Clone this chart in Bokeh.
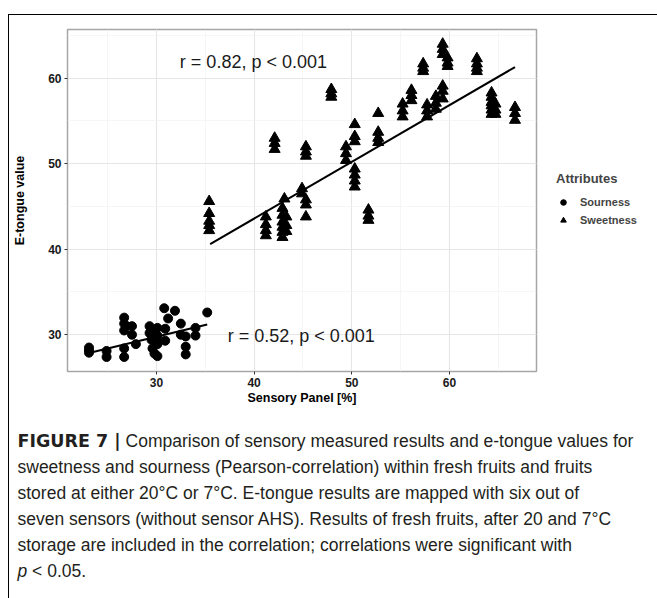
from bokeh.plotting import figure
from bokeh.models import Range1d, SingleIntervalTicker, Label, Legend, LegendItem, Div
from bokeh.layouts import column
from bokeh.embed import file_html
from bokeh.resources import INLINE

# ---------------- data ----------------
sour_x = [23.1, 23.1, 23.1, 24.9, 24.9, 26.7, 26.7, 26.7, 26.7, 26.7, 27.5, 27.5, 27.9,
          29.3, 29.3, 29.5, 29.6, 29.8, 29.8, 30.1, 30.1, 30.1, 30.1, 30.0, 30.8, 31.2,
          31.9, 30.9, 30.9, 32.5, 32.5, 33.0, 33.0, 33.0, 34.0, 34.0, 35.2]
sour_y = [28.5, 28.2, 27.9, 28.1, 27.4, 32.0, 31.3, 30.5, 28.4, 27.4, 31.0, 30.0, 28.9,
          31.0, 30.2, 29.4, 28.4, 27.8, 30.6, 30.8, 29.9, 28.9, 27.5, 29.4, 33.1, 31.9,
          32.8, 30.7, 29.3, 31.3, 30.0, 29.8, 28.6, 27.7, 30.8, 29.9, 32.6]
sweet_x = [35.4, 35.4, 35.4, 35.4, 35.4,
           41.2, 41.2, 41.2, 41.2,
           42.1, 42.1, 42.1,
           42.9, 42.9, 42.9, 42.9, 42.9, 42.9,
           43.3, 43.3, 43.3, 43.1,
           44.9, 44.9, 45.3, 45.3, 45.3,
           45.3, 45.3, 45.3,
           47.9, 47.9, 47.9,
           49.4, 49.4, 49.4,
           50.3, 50.3, 50.3, 50.3, 50.3, 50.3, 50.3,
           51.7, 51.7, 51.7,
           52.7, 52.7, 52.7, 52.7,
           55.2, 55.2, 55.2,
           56.1, 56.1, 56.1,
           57.3, 57.3, 57.3,
           57.7, 57.7, 57.7,
           58.6, 58.6, 58.6,
           59.3, 59.3, 59.3, 59.3, 59.3, 59.3,
           59.8, 59.8, 59.8,
           62.8, 62.8, 62.8, 62.8,
           64.3, 64.3, 64.3, 64.3, 64.3, 64.3,
           64.7, 64.7, 64.7,
           66.7, 66.7, 66.7]
sweet_y = [45.6, 44.2, 43.3, 42.8, 42.2,
           43.8, 42.9, 42.2, 41.6,
           53.0, 52.4, 51.7,
           44.8, 44.0, 43.2, 42.6, 42.0, 41.4,
           43.8, 42.8, 42.1, 45.9,
           47.1, 46.5, 45.8, 45.2, 43.8,
           52.0, 51.4, 50.9,
           58.7, 58.2, 57.8,
           52.0, 51.2, 50.4,
           54.6, 53.2, 52.6, 49.4, 48.7, 48.0, 47.3,
           44.6, 43.9, 43.4,
           55.9, 53.7, 53.0, 52.5,
           57.0, 56.2, 55.5,
           58.6, 58.0, 57.4,
           61.7, 61.2, 60.8,
           56.9, 56.2, 55.5,
           57.9, 57.1, 56.4,
           64.0, 63.4, 62.8, 59.1, 58.5, 57.6,
           62.4, 61.8, 61.4,
           62.3, 61.7, 61.2, 60.8,
           58.3, 57.8, 57.2, 56.8, 56.3, 55.8,
           57.0, 56.3, 55.8,
           56.6, 55.9, 55.1]
sour_fit_x = [23.2, 35.2]
sour_fit_y = [27.9, 31.2]
sweet_fit_x = [35.5, 66.7]
sweet_fit_y = [40.6, 61.3]
x_ticks = [30, 40, 50, 60]
y_ticks = [30, 40, 50, 60]
sour_label = "r = 0.52, p < 0.001"
sweet_label = "r = 0.82, p < 0.001"
caption_lines = [
    "Comparison of sensory measured results and e-tongue values for",
    "sweetness and sourness (Pearson-correlation) within fresh fruits and fruits",
    "stored at either 20°C or 7°C. E-tongue results are mapped with six out of",
    "seven sensors (without sensor AHS). Results of fresh fruits, after 20 and 7°C",
    "storage are included in the correlation; correlations were significant with",
]

# ---------------- layout geometry (page px) ----------------
W, H = 657, 598
OX, OY = 8, 14          # outer frame corner
BW = 1.5                # outer frame line width
X0, Y0 = OX + BW, OY + BW   # content origin
FL, FR, FT, FB = 68, 537, 30, 372   # plot panel edges in page px
CHART_BOTTOM = 412
FONT = "Liberation Sans"

p = figure(frame_width=FR - FL, frame_height=FB - FT, output_backend="svg",
           toolbar_location=None,
           x_range=Range1d(20.9, 68.9), y_range=Range1d(25.7, 65.7),
           min_border_left=int(round(FL - X0)), min_border_right=0,
           min_border_top=int(round(FT - Y0)), min_border_bottom=int(CHART_BOTTOM - FB))
p.background_fill_color = "white"
p.border_fill_color = "white"
p.outline_line_color = "#a6a6a6"
p.outline_line_width = 1.5

for ax in (p.xaxis, p.yaxis):
    ax.ticker = SingleIntervalTicker(interval=10, num_minor_ticks=2)
    ax.axis_line_color = None
    ax.major_tick_in = 0
    ax.major_tick_out = 3
    ax.minor_tick_in = 0
    ax.minor_tick_out = 0
    ax.major_tick_line_color = "#333333"
    ax.major_label_text_font = FONT
    ax.major_label_text_font_style = "bold"
    ax.major_label_text_font_size = "12px"
    ax.major_label_text_color = "#1a1a1a"
    ax.major_label_standoff = 3
    ax.axis_label_text_font = FONT
    ax.axis_label_text_font_style = "bold"
    ax.axis_label_text_font_size = "12.5px"
    ax.axis_label_text_color = "#000000"
p.xaxis.axis_label = "Sensory Panel [%]"
p.yaxis.axis_label = "E-tongue value"
p.xaxis.axis_label_standoff = 1
p.yaxis.axis_label_standoff = 18

for g in (p.xgrid, p.ygrid):
    g.grid_line_color = "#e6e6e6"
    g.grid_line_width = 1.1
    g.minor_grid_line_color = "#f2f2f2"
    g.minor_grid_line_width = 0.7

r_sour = p.scatter(sour_x, sour_y, marker="circle", size=9, color="black")
r_sweet = p.scatter(sweet_x, sweet_y, marker="triangle", size=11, color="black")
p.line(sour_fit_x, sour_fit_y, line_width=2, color="black")
p.line(sweet_fit_x, sweet_fit_y, line_width=2, color="black")

p.add_layout(Label(x=32.4, y=61.9, text=sweet_label, text_font=FONT,
                   text_font_size="18px", text_baseline="middle", text_color="#1a1a1a"))
p.add_layout(Label(x=37.3, y=29.9, text=sour_label, text_font=FONT,
                   text_font_size="18px", text_baseline="middle", text_color="#1a1a1a"))

legend = Legend(items=[LegendItem(label="Sourness", renderers=[r_sour]),
                       LegendItem(label="Sweetness", renderers=[r_sweet])],
                title="Attributes", location=(20, FB - 229))
legend.title_text_font = FONT
legend.title_text_font_style = "bold"
legend.title_text_font_size = "13px"
legend.title_standoff = 8
legend.label_text_font = FONT
legend.label_text_font_style = "bold"
legend.label_text_font_size = "11px"
legend.border_line_color = None
legend.background_fill_alpha = 0
legend.glyph_width = 14
legend.glyph_height = 16
legend.label_standoff = 10
legend.spacing = 2
legend.padding = 4
legend.margin = 0
p.add_layout(legend, "right")

# ---------------- caption (HTML text) ----------------
CAP_H = H - CHART_BOTTOM + 20
body = ('<b style="font-family:\'DejaVu Sans\';font-weight:bold;">FIGURE 7 |</b> '
        + caption_lines[0] + "<br>"
        + "<br>".join(caption_lines[1:]) + "<br>"
        + "<i>p</i> &lt; 0.05.")
cap = Div(text=('<div style="font-family:\'Liberation Sans\';font-size:17.5px;'
                'line-height:26px;color:#231f20;white-space:nowrap;'
                f'padding:17px 0 0 {18 - X0}px;">' + body + '</div>'),
          width=int(W - X0), height=CAP_H, margin=0)

layout = column(p, cap, spacing=0, margin=(OY, 0, 0, OX),
                styles={"border-left": f"{BW}px solid black",
                        "border-top": f"{BW}px solid black"})

open("out.html", "w").write(file_html(layout, INLINE))
